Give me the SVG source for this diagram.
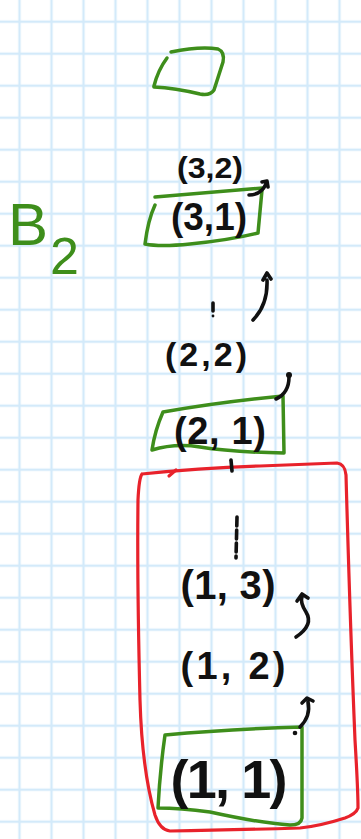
<svg xmlns="http://www.w3.org/2000/svg" width="361" height="839" viewBox="0 0 361 839">
<defs>
<pattern id="grid" x="3.5" y="5.7" width="32" height="32" patternUnits="userSpaceOnUse">
<rect x="14.8" y="0" width="2.4" height="32" fill="#d3eafa"/>
<rect x="0" y="14.8" width="32" height="2.4" fill="#d3eafa"/>
</pattern>
<style>
.g{fill:none;stroke:#3e8e1b;stroke-width:3.5;stroke-linecap:round;stroke-linejoin:round}
.r{fill:none;stroke:#e8222b;stroke-width:3.2;stroke-linecap:round;stroke-linejoin:round}
.k{fill:none;stroke:#111;stroke-width:3.6;stroke-linecap:round;stroke-linejoin:round}
.t{font-family:"Liberation Sans","DejaVu Sans",sans-serif;font-weight:bold;fill:#111;text-anchor:middle}
.gt{font-family:"Liberation Sans","DejaVu Sans",sans-serif;fill:#3e8e1b}
</style>
</defs>
<rect width="361" height="839" fill="#fff"/>
<rect width="361" height="839" fill="url(#grid)"/>

<g id="label-B2">
<text class="gt" x="8" y="245" font-size="60">B<tspan x="50" y="274" font-size="52">2</tspan></text>
</g>

<g id="box-empty">
<path class="g" d="M171,52 Q200,46 218,49 Q225,52 223,62 L214,90 Q210,96 200,94 Q175,88 154,87"/>
<path class="g" d="M167,58 Q158,70 154,86"/>
</g>

<g id="node-3-2">
<text class="t" x="210" y="178" font-size="30" textLength="66" lengthAdjust="spacingAndGlyphs">(3,2)</text>
</g>

<g id="node-3-1">
<path class="g" d="M155,197 L263,188 M262,190 L258,233 Q230,240 190,244 Q160,247 145,244 M155,205 Q148,220 145,244"/>
<text class="t" x="209" y="230" font-size="38" textLength="76" lengthAdjust="spacingAndGlyphs">(3,1)</text>
</g>

<g id="node-2-2">
<text class="t" x="206" y="366" font-size="34" textLength="82" lengthAdjust="spacing">(2,2)</text>
</g>

<g id="node-2-1">
<path class="g" d="M163,412 Q220,402 283,396 L284,453 Q230,452 200,447 Q175,443 152,450 Q155,430 163,412"/>
<text class="t" x="220" y="444" font-size="38" textLength="92" lengthAdjust="spacing">(2, 1)</text>
</g>

<g id="group-row1">
<path class="r" d="M142,474 Q200,468 260,466 Q310,464 337,463 Q345,464 346,475 Q350,620 355,740 Q358,790 358,808 Q356,814 345,818 Q320,826 300,828 Q230,830 170,831 Q160,830 155,815 Q142,770 140,700 Q137,580 138,500 Q139,478 142,474"/>
<path class="r" d="M176,470 L169,476"/>
</g>

<g id="node-1-3">
<text class="t" x="228" y="599" font-size="40" textLength="95" lengthAdjust="spacing">(1, 3)</text>
</g>

<g id="node-1-2">
<text class="t" x="233" y="679" font-size="38" textLength="105" lengthAdjust="spacing">(1, 2)</text>
</g>

<g id="node-1-1">
<path class="g" d="M165,735 Q230,729 302,727 L302,818 Q301,825 290,825 Q260,823 210,812 Q180,808 158,808 Q160,770 165,735"/>
<text class="t" x="229" y="798" font-size="54" textLength="117" lengthAdjust="spacing">(1, 1)</text>
</g>

<g id="connectors">
<path class="k" d="M249,195 Q261,195 266,184 M262,182 L267,181 L268,187"/>
<path class="k" d="M253,320 Q268,305 267,280 M263,280 L267,273 L271,279"/>
<path class="k" d="M213,303 L213,311" stroke-width="2.2"/>
<circle cx="213" cy="316" r="1.4" fill="#111"/>
<path class="k" d="M276,399 Q289,393 289,377"/>
<circle cx="289" cy="375" r="3" fill="#111"/>
<path class="k" d="M231,460 L232,471"/>
<path class="k" d="M237,517 L236,558" stroke-width="2.4" stroke-dasharray="9 4"/>
<path class="k" d="M296,637 Q314,625 306,612 Q300,603 302,596 M297,601 L302,594 L308,598"/>
<path class="k" d="M300,727 Q311,716 308,702 M302,703 L307,698 L313,701"/>
<circle cx="295" cy="733" r="2.3" fill="#111"/>
</g>
</svg>
